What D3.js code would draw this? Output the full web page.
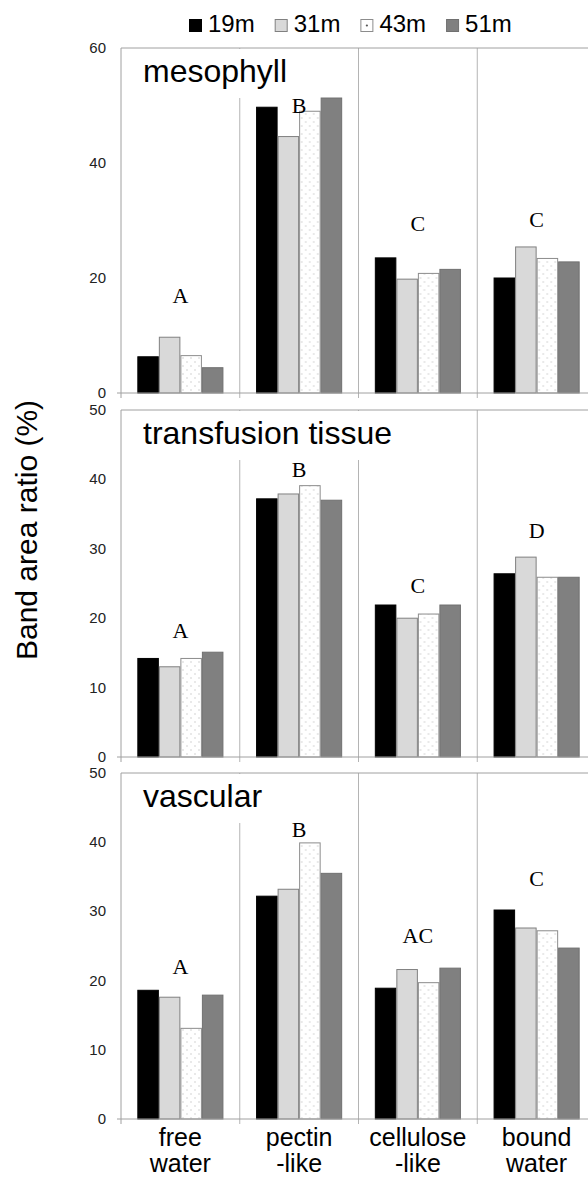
<!DOCTYPE html>
<html>
<head>
<meta charset="utf-8">
<script src="https://cdn.jsdelivr.net/npm/d3@7"></script>
<style>
  html, body { margin: 0; padding: 0; background: #fff; }
  svg { display: block; }
</style>
</head>
<body>
<svg id="chart" width="588" height="1180"></svg>
<script>
// ---- data ----
const series = ["19m", "31m", "43m", "51m"];
const categories = ["free water", "pectin-like", "cellulose-like", "bound water"];
const categoryLines = [["free", "water"], ["pectin", "-like"], ["cellulose", "-like"], ["bound", "water"]];
const tissues = ["mesophyll", "transfusion tissue", "vascular"];

// band area ratio (%) per category, one value per height class (19m, 31m, 43m, 51m)
const mesophyll = [
  [6.3, 9.7, 6.5, 4.4],
  [49.7, 44.6, 49.0, 51.3],
  [23.5, 19.8, 20.8, 21.5],
  [20.0, 25.4, 23.4, 22.8]
];
const transfusion = [
  [14.2, 13.0, 14.2, 15.1],
  [37.2, 37.9, 39.1, 37.0],
  [21.9, 20.0, 20.6, 21.9],
  [26.4, 28.8, 25.9, 25.9]
];
const vascular = [
  [18.6, 17.6, 13.1, 17.9],
  [32.2, 33.2, 39.9, 35.5],
  [18.9, 21.6, 19.7, 21.8],
  [30.2, 27.6, 27.2, 24.7]
];

// significance letters and the level (%) they sit at
const mesophyllLetters = ["A", "B", "C", "C"];
const mesophyllLetterLevels = [15.6, 48.7, 28.2, 28.9];
const transfusionLetters = ["A", "B", "C", "D"];
const transfusionLetterLevels = [17.1, 40.3, 23.6, 31.6];
const vascularLetters = ["A", "B", "AC", "C"];
const vascularLetterLevels = [21.0, 40.7, 25.4, 33.7];

const mesophyllTicks = [0, 20, 40, 60];
const transfusionTicks = [0, 10, 20, 30, 40, 50];
const vascularTicks = [0, 10, 20, 30, 40, 50];

// ---- layout ----
const svg = d3.select("#chart");
const sans = "'Liberation Sans', Arial, sans-serif";
const serif = "'Liberation Serif', 'Times New Roman', serif";
const axisGrey = "#a0a0a0";

const plotLeft = 121, plotRight = 596;
const panels = [
  { name: tissues[0], values: mesophyll, letters: mesophyllLetters, levels: mesophyllLetterLevels, ticks: mesophyllTicks, top: 48, bottom: 393 },
  { name: tissues[1], values: transfusion, letters: transfusionLetters, levels: transfusionLetterLevels, ticks: transfusionTicks, top: 410, bottom: 757 },
  { name: tissues[2], values: vascular, letters: vascularLetters, levels: vascularLetterLevels, ticks: vascularTicks, top: 773, bottom: 1119 }
];

const x0 = d3.scaleBand().domain(categories).range([plotLeft, plotRight]).paddingInner(0).paddingOuter(0);
const bw = x0.bandwidth();
const groupPad = bw * 0.1375;
const x1 = d3.scaleBand().domain(series).range([groupPad, bw - groupPad]).paddingInner(0);

const fills = { "19m": "#000000", "31m": "#d9d9d9", "43m": "url(#dots)", "51m": "#808080" };
const strokes = { "19m": "#000000", "31m": "#808080", "43m": "#8c8c8c", "51m": "#707070" };

// sparse dot fill for the 43m class
const defs = svg.append("defs");
const pat = defs.append("pattern").attr("id", "dots").attr("patternUnits", "userSpaceOnUse")
  .attr("width", 8).attr("height", 8);
pat.append("rect").attr("width", 8).attr("height", 8).attr("fill", "#fff");
pat.append("circle").attr("cx", 2).attr("cy", 2).attr("r", 0.7).attr("fill", "#c4c4c4");
pat.append("circle").attr("cx", 6).attr("cy", 6).attr("r", 0.7).attr("fill", "#c4c4c4");

panels.forEach(p => {
  const yMax = d3.max(p.ticks);
  const y = d3.scaleLinear().domain([0, yMax]).range([p.bottom, p.top]);
  const g = svg.append("g");

  // category separators, running past the baseline as tick marks
  categories.slice(1).forEach(c => {
    g.append("line").attr("x1", x0(c)).attr("x2", x0(c))
      .attr("y1", p.top).attr("y2", p.bottom + 5)
      .attr("stroke", "#b4b4b4").attr("stroke-width", 1);
  });

  // bars
  const groups = g.selectAll("g.cat").data(categories).join("g")
    .attr("transform", c => `translate(${x0(c)},0)`);
  groups.selectAll("rect").data((c, i) => series.map((s, j) => ({ s, v: p.values[i][j] }))).join("rect")
    .attr("x", d => x1(d.s) + 0.5)
    .attr("width", x1.bandwidth() - 1)
    .attr("y", d => y(d.v))
    .attr("height", d => y(0) - y(d.v))
    .attr("fill", d => fills[d.s])
    .attr("stroke", d => strokes[d.s])
    .attr("stroke-width", 1);

  // significance letters
  g.selectAll("text.sig").data(categories).join("text")
    .attr("class", "sig")
    .attr("x", c => x0(c) + bw / 2)
    .attr("y", (c, i) => y(p.levels[i]))
    .attr("text-anchor", "middle")
    .attr("font-family", serif).attr("font-size", 22).attr("fill", "#000")
    .text((c, i) => p.letters[i]);

  // frame: left axis, top border, baseline
  g.append("line").attr("x1", plotLeft).attr("x2", plotLeft).attr("y1", p.top).attr("y2", p.bottom + 5)
    .attr("stroke", axisGrey);
  g.append("line").attr("x1", plotLeft).attr("x2", plotRight).attr("y1", p.top).attr("y2", p.top)
    .attr("stroke", axisGrey);
  g.append("line").attr("x1", plotLeft - 4).attr("x2", plotRight).attr("y1", p.bottom).attr("y2", p.bottom)
    .attr("stroke", axisGrey);

  // y tick labels
  g.selectAll("text.tick").data(p.ticks).join("text")
    .attr("class", "tick")
    .attr("x", 106).attr("y", d => y(d) + 5)
    .attr("text-anchor", "end")
    .attr("font-family", sans).attr("font-size", 15).attr("fill", "#222")
    .text(d => d);

  // panel title on a white box
  const titleBox = g.append("rect").attr("fill", "#fff");
  const title = g.append("text")
    .attr("x", 143).attr("y", p.top + 34)
    .attr("font-family", sans).attr("font-size", 32).attr("fill", "#000")
    .text(p.name);
  const tw = title.node().getComputedTextLength();
  titleBox.attr("x", 136).attr("y", p.top + 1).attr("width", tw + 14).attr("height", 49);
});

// category labels under the last panel
const labels = svg.append("g");
categories.forEach((c, i) => {
  categoryLines[i].forEach((line, k) => {
    labels.append("text")
      .attr("x", x0(c) + bw / 2)
      .attr("y", 1146 + k * 26)
      .attr("text-anchor", "middle")
      .attr("font-family", sans).attr("font-size", 25).attr("fill", "#000")
      .text(line);
  });
});

// y axis title
svg.append("text")
  .attr("transform", "translate(37,530) rotate(-90)")
  .attr("text-anchor", "middle")
  .attr("font-family", sans).attr("font-size", 30).attr("fill", "#000")
  .text("Band area ratio (%)");

// legend
const legend = svg.append("g");
let lx = 189;
series.forEach(s => {
  legend.append("rect").attr("x", lx + 0.5).attr("y", 19.5).attr("width", 12).attr("height", 12)
    .attr("fill", s === "43m" ? "#fff" : fills[s]).attr("stroke", strokes[s]);
  if (s === "43m") {
    legend.append("circle").attr("cx", lx + 6.5).attr("cy", 25.5).attr("r", 1.1).attr("fill", "#555");
  }
  const t = legend.append("text").attr("x", lx + 19).attr("y", 32)
    .attr("font-family", sans).attr("font-size", 24).attr("fill", "#000").text(s);
  lx += 19 + t.node().getComputedTextLength() + 20;
});
</script>
</body>
</html>
